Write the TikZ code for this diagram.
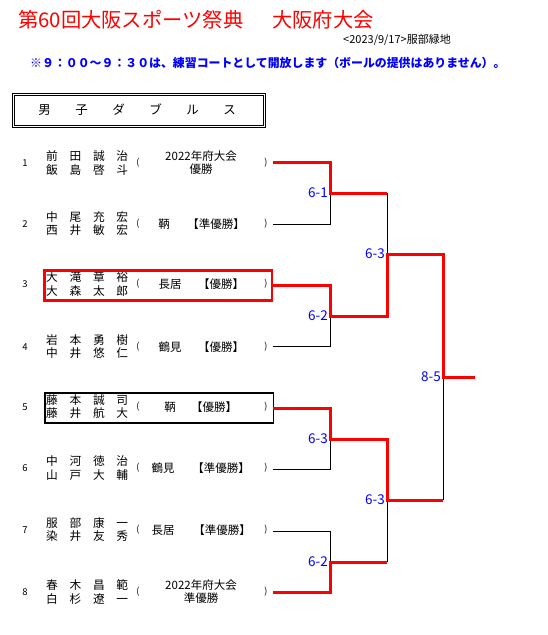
\documentclass[tikz,border=0pt]{standalone}
\usepackage{fontspec}
\setmainfont{Noto Sans CJK JP}
\usepackage{tikz}

\begin{document}
\begin{tikzpicture}[
  x=1pt, y=-1pt,
  ttl/.style={anchor=west, inner sep=0pt, text=red,
              font=\fontsize{20.3}{22}\selectfont},
  dt/.style={anchor=east, inner sep=0pt, font=\fontsize{11}{12}\selectfont},
  note/.style={anchor=west, inner sep=0pt, text=blue,
               font=\fontsize{11.9}{13}\selectfont\bfseries},
  hdr/.style={draw=black, line width=0.9pt},
  num/.style={inner sep=0pt, font=\fontsize{9.5}{11}\selectfont},
  nm/.style={anchor=west, inner sep=0pt, align=left,
             font=\fontsize{11.7}{13.2}\selectfont},
  aff/.style={inner sep=0pt, align=center,
              font=\fontsize{11.5}{13}\selectfont},
  par/.style={inner sep=0pt, font=\fontsize{9}{10}\selectfont},
  score/.style={anchor=east, inner sep=0pt, xshift=-2pt, text=blue,
                font=\fontsize{13.5}{15}\selectfont},
  thin/.style={draw=black, line width=1pt},
  win/.style={draw=red, line width=3pt},
]
  \useasboundingbox (0,0) rectangle (548,635);

  % heading
  \node[ttl] (ttl1) at (18,20) {第60回大阪スポーツ祭典};
  \node[ttl] (ttl2) at (272,20) {大阪府大会};
  \node[dt] (date) at (451,40) {<2023/9/17>服部緑地};
  \node[note] (note) at (30,63) {※９：００～９：３０は、練習コートとして開放します（ボールの提供はありません）。};

  \draw[hdr] (12.5,93.5) rectangle (265,127);
  \draw[hdr] (14.5,95.5) rectangle (263,125);
  \node[inner sep=0pt, font=\fontsize{12.5}{14}\selectfont] (hd) at (137,110)
    {男\hskip24.5pt 子\hskip24.5pt ダ\hskip24.5pt ブ\hskip24.5pt ル\hskip24.5pt ス};

  % entries
  \node[num] (k1) at (25,163) {1};
  \node[num] (k2) at (25,224) {2};
  \node[num] (k3) at (25,284) {3};
  \node[num] (k4) at (25,347) {4};
  \node[num] (k5) at (25,407) {5};
  \node[num] (k6) at (25,468) {6};
  \node[num] (k7) at (25,530) {7};
  \node[num] (k8) at (25,592) {8};

  \node[nm] (n1) at (46,163) {前　田　誠　治\\飯　島　啓　斗};
  \node[nm] (n2) at (46,224) {中　尾　充　宏\\西　井　敏　宏};
  \node[nm] (n3) at (46,284) {大　滝　章　裕\\大　森　太　郎};
  \node[nm] (n4) at (46,347) {岩　本　勇　樹\\中　井　悠　仁};
  \node[nm] (n5) at (46,407) {藤　本　誠　司\\藤　井　航　大};
  \node[nm] (n6) at (46,468) {中　河　徳　治\\山　戸　大　輔};
  \node[nm] (n7) at (46,530) {服　部　康　一\\染　井　友　秀};
  \node[nm] (n8) at (46,592) {春　木　昌　範\\白　杉　遼　一};

  \node[par] (o1) at (138,163) {(};
  \node[par] (o2) at (138,224) {(};
  \node[par] (o3) at (138,284) {(};
  \node[par] (o4) at (138,347) {(};
  \node[par] (o5) at (138,407) {(};
  \node[par] (o6) at (138,468) {(};
  \node[par] (o7) at (138,530) {(};
  \node[par] (o8) at (138,592) {(};
  \node[par] (c1) at (266,163) {)};
  \node[par] (c2) at (266,224) {)};
  \node[par] (c3) at (266,284) {)};
  \node[par] (c4) at (266,347) {)};
  \node[par] (c5) at (266,407) {)};
  \node[par] (c6) at (266,468) {)};
  \node[par] (c7) at (266,530) {)};
  \node[par] (c8) at (266,592) {)};

  \node[aff] (a1) at (201,163) {2022年府大会\\優勝};
  \node[aff] (a2) at (164,224) {鞆};
  \node[aff] (r2) at (216,224) {【準優勝】};
  \node[aff] (a3) at (170,284) {長居};
  \node[aff] (r3) at (221,284) {【優勝】};
  \node[aff] (a4) at (170,347) {鶴見};
  \node[aff] (r4) at (221,347) {【優勝】};
  \node[aff] (a5) at (170,407) {鞆};
  \node[aff] (r5) at (214,407) {【優勝】};
  \node[aff] (a6) at (163,468) {鶴見};
  \node[aff] (r6) at (221,468) {【準優勝】};
  \node[aff] (a7) at (163,530) {長居};
  \node[aff] (r7) at (222,530) {【準優勝】};
  \node[aff] (a8) at (201,592) {2022年府大会\\準優勝};

  \draw[draw=red, line width=2.7pt] (44.7,270.3) rectangle (272,300.3);
  \draw[draw=black, line width=1.8pt] (45,393) rectangle (273.5,423);

  % bracket points
  \coordinate (e1) at (273,162);
  \coordinate (e2) at (273,224);
  \coordinate (e3) at (273,285);
  \coordinate (e4) at (273,346);
  \coordinate (e5) at (273,408);
  \coordinate (e6) at (273,469);
  \coordinate (e7) at (273,531);
  \coordinate (e8) at (273,592);
  \coordinate (m1) at (330,193);
  \coordinate (m2) at (330,316);
  \coordinate (m3) at (330,439);
  \coordinate (m4) at (330,562);
  \coordinate (s1) at (387,254);
  \coordinate (s2) at (387,500);
  \coordinate (f) at (443,377);
  \coordinate (w) at (475,377);

  \draw[thin] (e2) -| (m1);
  \draw[thin] (m1 -| s1) -- (s1);
  \draw[thin] (e4) -| (m2);
  \draw[thin] (e6) -| (m3);
  \draw[thin] (e7) -| (m4);
  \draw[thin] (m4 -| s2) -- (s2);
  \draw[thin] (f) -- (f |- s2);

  \draw[win] (e1) -| (m1) -- (m1 -| s1);
  \draw[win] (e3) -| (m2) -| (s1) -| (f) -- (w);
  \draw[win] (e5) -| (m3) -| (s2) -- (s2 -| f);
  \draw[win] (e8) -| (m4) -- (m4 -| s2);

  % scores
  \node[score] (g1) at (m1) {6-1};
  \node[score] (g2) at (m2) {6-2};
  \node[score] (g3) at (m3) {6-3};
  \node[score] (g4) at (m4) {6-2};
  \node[score] (g5) at (s1) {6-3};
  \node[score] (g6) at (s2) {6-3};
  \node[score] (g7) at (f) {8-5};
\end{tikzpicture}
\end{document}
